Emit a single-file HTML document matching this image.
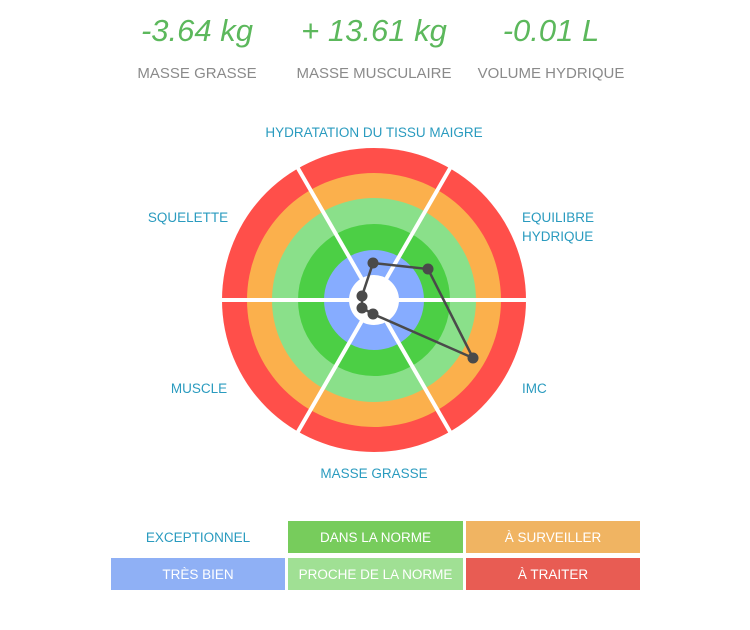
<!DOCTYPE html>
<html><head><meta charset="utf-8"><style>
html,body{margin:0;padding:0;background:#fff;}
body{width:750px;height:625px;overflow:hidden;font-family:"Liberation Sans",sans-serif;}
</style></head><body>
<svg width="750" height="625" xmlns="http://www.w3.org/2000/svg" font-family="Liberation Sans, sans-serif">
<g fill="#5cb85c" font-style="italic" font-size="31" text-anchor="middle">
<text x="197" y="41">-3.64 kg</text>
<text x="374" y="41">+ 13.61 kg</text>
<text x="551" y="41">-0.01 L</text>
</g>
<g fill="#8a8a8a" font-size="15" text-anchor="middle">
<text x="197" y="78">MASSE GRASSE</text>
<text x="374" y="78">MASSE MUSCULAIRE</text>
<text x="551" y="78">VOLUME HYDRIQUE</text>
</g>
<g fill="#2a9bbf" font-size="13.5">
<text x="374" y="137" text-anchor="middle">HYDRATATION DU TISSU MAIGRE</text>
<text x="188" y="222" text-anchor="middle">SQUELETTE</text>
<text x="522" y="222">EQUILIBRE</text>
<text x="522" y="241">HYDRIQUE</text>
<text x="522" y="393">IMC</text>
<text x="199" y="393" text-anchor="middle">MUSCLE</text>
<text x="374" y="478" text-anchor="middle">MASSE GRASSE</text>
</g>
<circle cx="374" cy="300" r="152" fill="#ff4f4a"/>
<circle cx="374" cy="300" r="127" fill="#fbb04c"/>
<circle cx="374" cy="300" r="102" fill="#8ae08a"/>
<circle cx="374" cy="300" r="76" fill="#4ccf45"/>
<circle cx="374" cy="300" r="50" fill="#86acff"/>
<circle cx="374" cy="300" r="25" fill="#fff"/>
<g stroke="#fff" stroke-width="4">
<line x1="219" y1="300" x2="529" y2="300"/>
<line x1="296.5" y1="165.8" x2="451.5" y2="434.2"/>
<line x1="451.5" y1="165.8" x2="296.5" y2="434.2"/>
</g>
<polygon points="373,263 428,269 473,358 373,314 362,308 362,296" fill="none" stroke="#4a4a4a" stroke-width="2.5"/>
<g fill="#4a4a4a">
<circle cx="373" cy="263" r="5.5"/><circle cx="428" cy="269" r="5.5"/><circle cx="473" cy="358" r="5.5"/>
<circle cx="373" cy="314" r="5.5"/><circle cx="362" cy="308" r="5.5"/><circle cx="362" cy="296" r="5.5"/>
</g>
<rect x="288" y="521" width="175" height="32" fill="#77cc5c"/>
<rect x="466" y="521" width="174" height="32" fill="#f0b462"/>
<rect x="111" y="558" width="174" height="32" fill="#8fb0f5"/>
<rect x="288" y="558" width="175" height="32" fill="#a0e094"/>
<rect x="466" y="558" width="174" height="32" fill="#e85c53"/>
<g font-size="13.5" text-anchor="middle" fill="#fff">
<text x="198" y="542" fill="#2a9bbf">EXCEPTIONNEL</text>
<text x="375.5" y="542">DANS LA NORME</text>
<text x="553" y="542">À SURVEILLER</text>
<text x="198" y="579">TRÈS BIEN</text>
<text x="375.5" y="579">PROCHE DE LA NORME</text>
<text x="553" y="579">À TRAITER</text>
</g>
</svg>
</body></html>
